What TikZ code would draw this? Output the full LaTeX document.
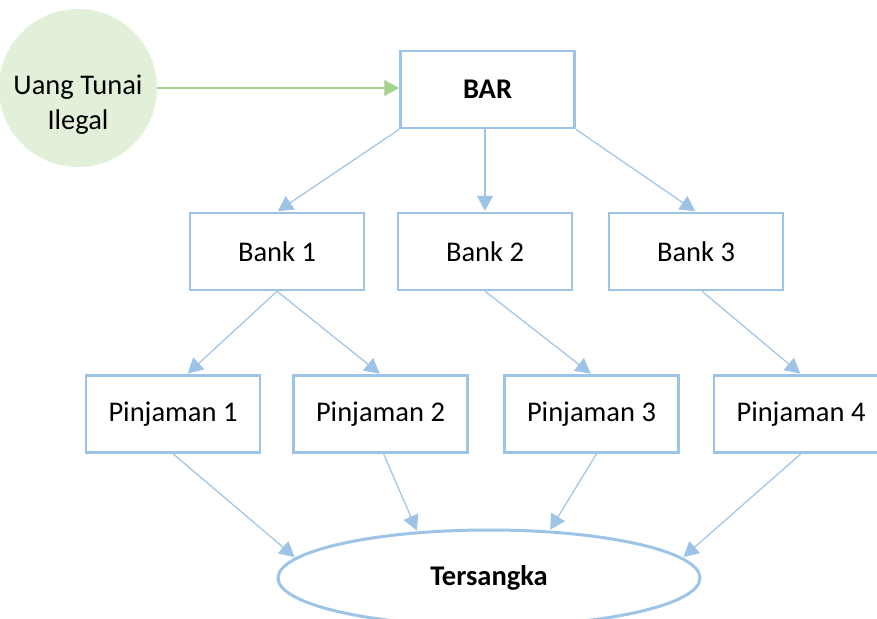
\documentclass[tikz,border=0pt]{standalone}
\usepackage{fontspec}
\setmainfont{Carlito}
\usepackage{tikz}
\usetikzlibrary{arrows.meta,shapes.geometric}
\definecolor{garisbiru}{RGB}{157,195,230}
\definecolor{isihijau}{RGB}{226,240,217}
\definecolor{garishijau}{RGB}{169,209,142}

\begin{document}
\begin{tikzpicture}[x=1pt, y=-1pt,
  kotak/.style={draw=garisbiru, line width=2.5pt, fill=white, minimum width=174pt, minimum height=77pt, inner sep=0pt},
  panah/.style={draw=garisbiru, line width=1.2pt, -{Triangle[width=16pt,length=15pt]}, shorten >=1pt},
  every node/.style={font=\fontsize{28.5}{35}\selectfont}]
\useasboundingbox (0,0) rectangle (877,618);
\clip (0,0) rectangle (877,618);
%%%%% Source %%%%%
\node[circle, fill=isihijau, minimum size=147pt, inner sep=0pt, align=center] (uang) at (78,88) {\rule{0pt}{52pt}Uang Tunai\\Ilegal};
\node[kotak] (bar) at (487.5,89.5) {\textbf{BAR}};
%%%%% Banks and loans %%%%%
\foreach \x/\i in {277/1,485/2,696/3}{
\node[kotak] (bank\i) at (\x,251.5) {Bank \i};
}
\foreach \x/\i in {173/1,380.5/2,591.5/3,801/4}{
\node[kotak] (pinj\i) at (\x,414) {Pinjaman \i};
}
\node[ellipse, draw=garisbiru, line width=3pt, minimum width=422pt, minimum height=96pt] (tsk) at (489,578) {\textbf{Tersangka}};
%%%%% Arrows %%%%%
\draw[draw=garishijau, line width=1.2pt, -{Triangle[width=16pt,length=15pt]}] (uang.east) -- (uang.east -| bar.west);
\draw[panah] (bar.south west) -- (bank1.north);
\draw[panah] (bank2.north |- bar.south) -- (bank2.north);
\draw[panah] (bar.south east) -- (bank3.north);
\draw[panah] (bank1.south) -- ([xshift=14pt]pinj1.north);
\draw[panah] (bank1.south) -- (pinj2.north);
\draw[panah] (bank2.south) -- (pinj3.north);
\draw[panah] ([xshift=6pt]bank3.south) -- (pinj4.north);
\draw[panah] (pinj1.south) -- (tsk.174);
\draw[panah] ([xshift=3pt]pinj2.south) -- (tsk.147.5);
\draw[panah] ([xshift=5pt]pinj3.south) -- (tsk.38.5);
\draw[panah] (pinj4.south) -- (tsk.6);
\end{tikzpicture}
\end{document}
